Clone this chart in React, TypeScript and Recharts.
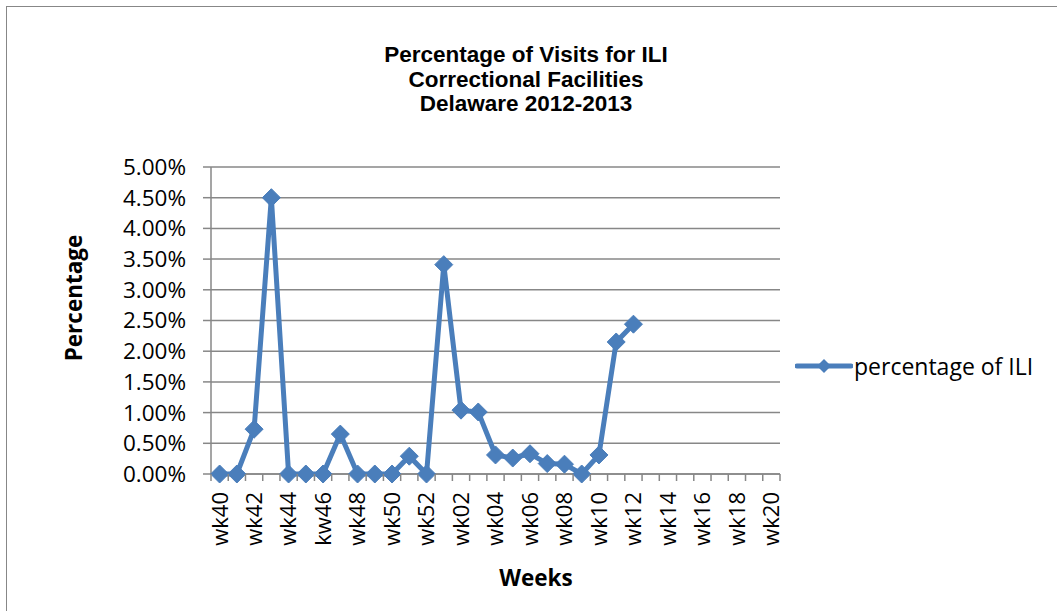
import React from 'react';
import { LineChart, Line, XAxis, YAxis, CartesianGrid, Legend } from 'recharts';

const weeks: string[] = [
  'wk40', 'wk41', 'wk42', 'wk43', 'wk44', 'wk45', 'kw46', 'wk47', 'wk48', 'wk49', 'wk50', 'wk51', 'wk52',
  'wk01', 'wk02', 'wk03', 'wk04', 'wk05', 'wk06', 'wk07', 'wk08', 'wk09', 'wk10',
  'wk11', 'wk12', 'wk13', 'wk14', 'wk15', 'wk16', 'wk17', 'wk18', 'wk19', 'wk20',
];

const iliPercent: (number | null)[] = [
  0, 0, 0.73, 4.5, 0, 0, 0, 0.65, 0, 0, 0, 0.29, 0,
  3.41, 1.04, 1.01, 0.31, 0.26, 0.33, 0.17, 0.16, 0, 0.31,
  2.15, 2.44, null, null, null, null, null, null, null, null,
];

const yTicks: number[] = [0, 0.5, 1, 1.5, 2, 2.5, 3, 3.5, 4, 4.5, 5];

const seriesName = 'percentage of ILI';
const titleLines = ['Percentage of Visits for ILI', 'Correctional Facilities', 'Delaware 2012-2013'];
const xTitle = 'Weeks';
const yTitle = 'Percentage';

const data = weeks.map((w, i) => ({ week: w, ili: iliPercent[i] }));

const W = 1057;
const H = 611;
const PLOT_L = 211;
const PLOT_R = 780;
const PLOT_T = 167;
const PLOT_B = 474;
const Y_AXIS_W = 60;
const X_AXIS_H = 30;
const BAND = (PLOT_R - PLOT_L) / weeks.length;

const BLUE = '#4a7ebb';
const GRAY = '#878787';
const FONT = '"Open Sans", sans-serif';

const XTick = (props: any) => {
  const { x, y, payload, index } = props;
  const idx = typeof index === 'number' ? index : payload.index;
  const lx = x - BAND / 2;
  const isLast = idx === weeks.length - 1;
  return (
    <g>
      <line x1={lx} y1={y} x2={lx} y2={y + 7} stroke={GRAY} strokeWidth={1.5} />
      {isLast && <line x1={x + BAND / 2} y1={y} x2={x + BAND / 2} y2={y + 7} stroke={GRAY} strokeWidth={1.5} />}
      {idx % 2 === 0 && (
        <text
          x={x}
          y={y + 18}
          transform={`rotate(-90, ${x}, ${y + 18})`}
          textAnchor="end"
          dy="0.36em"
          fontFamily={FONT}
          fontSize={22}
          fill="#000"
        >
          {payload.value}
        </text>
      )}
    </g>
  );
};

const Diamond = (props: any) => {
  const { cx, cy, value } = props;
  if (value === null || value === undefined || cx == null || cy == null) return null;
  const r = 9;
  return (
    <polygon
      points={`${cx},${cy - r} ${cx + r},${cy} ${cx},${cy + r} ${cx - r},${cy}`}
      fill={BLUE}
      stroke={BLUE}
      strokeWidth={1}
    />
  );
};

const LegendContent = () => (
  <div style={{ display: 'flex', alignItems: 'center', whiteSpace: 'nowrap' }}>
    <svg width={58} height={20} style={{ display: 'block' }}>
      <line x1={2} y1={10} x2={56} y2={10} stroke={BLUE} strokeWidth={5} strokeLinecap="round" />
      <polygon points="29,3 36,10 29,17 22,10" fill={BLUE} />
    </svg>
    <span style={{ fontFamily: FONT, fontSize: 23, color: '#000', marginLeft: 1 }}>{seriesName}</span>
  </div>
);

export default function App() {
  return (
    <div style={{ position: 'absolute', left: 0, top: 0, width: W, height: H, overflow: 'hidden', background: '#fff' }}>
      <div
        style={{
          position: 'absolute',
          left: 6,
          top: 6,
          width: W + 100,
          height: H + 100,
          border: `1.5px solid ${GRAY}`,
          boxSizing: 'border-box',
        }}
      />
      <div style={{ position: 'absolute', left: 0, top: 0 }}>
        <LineChart
          width={W}
          height={H}
          data={data}
          margin={{ top: PLOT_T, right: W - PLOT_R, bottom: H - PLOT_B - X_AXIS_H, left: PLOT_L - Y_AXIS_W }}
        >
          <CartesianGrid vertical={false} stroke={GRAY} strokeWidth={1.5} />
          <XAxis
            dataKey="week"
            scale="band"
            interval={0}
            height={X_AXIS_H}
            tickLine={false}
            tickSize={0}
            tickMargin={0}
            axisLine={{ stroke: GRAY, strokeWidth: 1.5 }}
            tick={<XTick />}
          />
          <YAxis
            width={Y_AXIS_W}
            domain={[0, 5]}
            ticks={yTicks}
            interval={0}
            tickSize={8}
            tickMargin={17}
            tickLine={{ stroke: GRAY, strokeWidth: 1.5 }}
            axisLine={{ stroke: GRAY, strokeWidth: 1.5 }}
            tick={{ fontFamily: FONT, fontSize: 22.5, fill: '#000' }}
            tickFormatter={(v: number) => `${v.toFixed(2)}%`}
          />
          <Legend
            layout="horizontal"
            verticalAlign="middle"
            align="center"
            wrapperStyle={{ left: 795, top: 350, width: 260 }}
            content={<LegendContent />}
          />
          <Line
            type="linear"
            dataKey="ili"
            name={seriesName}
            stroke={BLUE}
            strokeWidth={5}
            dot={<Diamond />}
            activeDot={false}
            isAnimationActive={false}
            connectNulls={false}
          />
        </LineChart>
      </div>
      <div
        style={{
          position: 'absolute',
          left: 226,
          width: 600,
          top: 43,
          textAlign: 'center',
          fontFamily: '"Liberation Sans", Arial, sans-serif',
          fontWeight: 'bold',
          fontSize: 22.5,
          lineHeight: '24.5px',
          color: '#000',
        }}
      >
        {titleLines.map((t) => (
          <div key={t}>{t}</div>
        ))}
      </div>
      <div
        style={{
          position: 'absolute',
          left: 73,
          top: 298,
          transform: 'translate(-50%, -50%) rotate(-90deg)',
          fontFamily: FONT,
          fontWeight: 'bold',
          fontSize: 22.5,
          whiteSpace: 'nowrap',
          color: '#000',
        }}
      >
        {yTitle}
      </div>
      <div
        style={{
          position: 'absolute',
          left: 536,
          top: 577,
          transform: 'translate(-50%, -50%)',
          fontFamily: FONT,
          fontWeight: 'bold',
          fontSize: 22.5,
          whiteSpace: 'nowrap',
          color: '#000',
        }}
      >
        {xTitle}
      </div>
    </div>
  );
}
